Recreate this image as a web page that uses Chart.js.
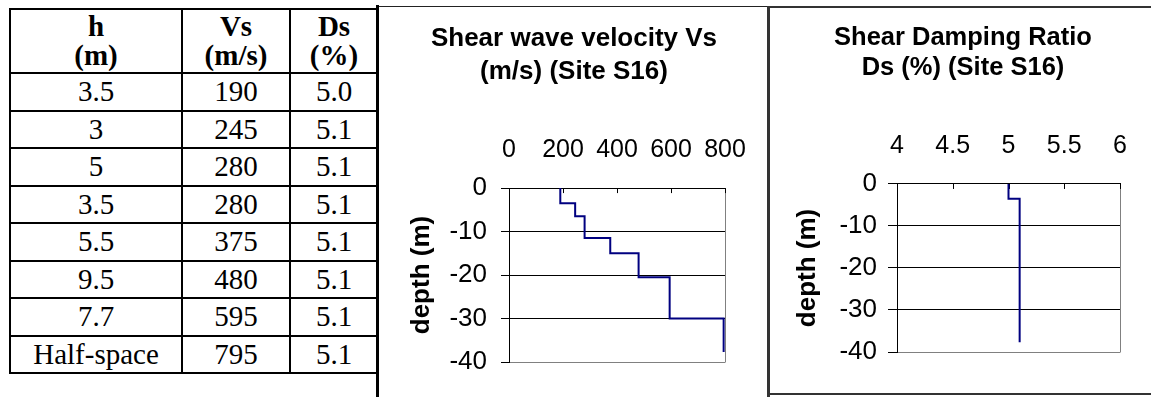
<!DOCTYPE html>
<html>
<head>
<meta charset="utf-8">
<script src="https://cdn.jsdelivr.net/npm/chart.js@4.4.1/dist/chart.umd.min.js"></script>
<style>
  html, body { margin: 0; padding: 0; background: #fff; }
  body { width: 1151px; height: 397px; position: relative; overflow: hidden; }
  #tbl { position: absolute; left: 9px; top: 8px; width: 368px; border-collapse: collapse; table-layout: fixed;
         font-family: 'Liberation Serif', 'Times New Roman', serif; font-size: 29px; color: #000; }
  #tbl th, #tbl td { border: 2px solid #000; text-align: center; padding: 0; line-height: 29px; }
  #tbl th { height: 62px; font-weight: bold; }
  #tbl td { height: 35.5px; }
  canvas { position: absolute; top: 0; }
  .rule { position: absolute; background: #000; }
</style>
</head>
<body>

<table id="tbl">
  <colgroup><col style="width:172px"><col style="width:108px"><col style="width:88px"></colgroup>
  <thead><tr><th>h<br>(m)</th><th>Vs<br>(m/s)</th><th>Ds<br>(%)</th></tr></thead>
  <tbody id="tblBody"></tbody>
</table>

<canvas id="chartVs" width="392" height="397" style="left:378px"></canvas>
<canvas id="chartDs" width="386" height="393" style="left:770px"></canvas>

<!-- cadres des panneaux -->
<div class="rule" style="left:376px; top:5px; width:3px; height:392px"></div>
<div class="rule" style="left:379px; top:6px; width:388px; height:1px; background:#222"></div>
<div class="rule" style="left:767px; top:6px; width:3px; height:391px; background:#333"></div>
<div class="rule" style="left:770px; top:6px; width:381px; height:2px; background:#333"></div>
<div class="rule" style="left:768px; top:393px; width:383px; height:2px; background:#333"></div>

<script>
// tableau des couches
const couchesH = ['3.5', '3', '5', '3.5', '5.5', '9.5', '7.7', 'Half-space'];
const couchesVs = [190, 245, 280, 280, 375, 480, 595, 795];
const couchesDs = ['5.0', '5.1', '5.1', '5.1', '5.1', '5.1', '5.1', '5.1'];

// profil Vs tel que tracé
const vsHaut = [0, -3.5, -6.5, -11.5, -15, -20.5, -30];
const vsBas = [-3.5, -6.5, -11.5, -15, -20.5, -30, -37.7];
const vsValeurs = [190, 245, 280, 375, 480, 595, 795];

// profil Ds tel que tracé
const dsHaut = [0, -3.5];
const dsBas = [-3.5, -37.7];
const dsValeurs = [5.0, 5.1];

const vsTicks = [0, 200, 400, 600, 800];
const dsTicks = [4, 4.5, 5, 5.5, 6];
const profTicks = [0, -10, -20, -30, -40];

Chart.defaults.font.family = "'Liberation Sans', Arial, sans-serif";
Chart.defaults.color = '#000';

document.getElementById('tblBody').innerHTML = couchesH.map((h, i) =>
  `<tr><td>${h}</td><td>${couchesVs[i]}</td><td>${couchesDs[i]}</td></tr>`).join('');

function escalier(valeurs, haut, bas) {
  const pts = [];
  valeurs.forEach((v, i) => {
    pts.push({ x: v, y: haut[i] });
    pts.push({ x: v, y: bas[i] });
  });
  return pts;
}

// graduations intérieures + bord droit gris (style Excel)
const cadreExcel = {
  id: 'cadreExcel',
  beforeDatasetsDraw(chart) {
    const { ctx, chartArea, scales: { x } } = chart;
    ctx.save();
    ctx.lineWidth = 1;
    ctx.strokeStyle = '#808080';
    const xr = Math.round(chartArea.right) + 0.5;
    ctx.beginPath();
    ctx.moveTo(xr, chartArea.top);
    ctx.lineTo(xr, chartArea.bottom + 0.5);
    ctx.stroke();
    ctx.strokeStyle = '#000';
    x.ticks.forEach(t => {
      const px = Math.round(x.getPixelForValue(t.value)) + 0.5;
      ctx.beginPath();
      ctx.moveTo(px, chartArea.top);
      ctx.lineTo(px, chartArea.top + 5);
      ctx.stroke();
    });
    ctx.restore();
  }
};

function construireProfil(id, cfg) {
  const ctx = document.getElementById(id).getContext('2d');
  return new Chart(ctx, {
    type: 'scatter',
    data: {
      datasets: [{
        data: escalier(cfg.valeurs, cfg.haut, cfg.bas),
        showLine: true,
        borderColor: '#000080',
        borderWidth: 2,
        pointRadius: 0,
        fill: false
      }]
    },
    options: {
      responsive: false,
      animation: false,
      layout: { padding: cfg.padding },
      plugins: {
        legend: { display: false },
        tooltip: { enabled: false },
        title: {
          display: true,
          text: cfg.titre,
          color: '#000',
          font: { size: cfg.titreTaille, weight: 'bold', lineHeight: cfg.titreInterligne },
          padding: { top: cfg.titreHaut, bottom: 0 }
        }
      },
      scales: {
        x: {
          type: 'linear',
          position: 'top',
          min: cfg.xTicks[0],
          max: cfg.xTicks[cfg.xTicks.length - 1],
          afterBuildTicks: s => { s.ticks = cfg.xTicks.map(v => ({ value: v })); },
          afterFit: s => { s.height = cfg.hauteurX; },
          ticks: { font: { size: 25 }, padding: 23, maxRotation: 0, autoSkip: false, callback: v => String(v) },
          grid: { drawOnChartArea: false, drawTicks: false },
          border: { color: '#000', width: 1 }
        },
        y: {
          type: 'linear',
          min: -40,
          max: 0,
          afterBuildTicks: s => { s.ticks = profTicks.map(v => ({ value: v })); },
          afterFit: s => { s.width = cfg.largeurY; },
          ticks: { font: { size: 26 }, padding: cfg.yPad, callback: v => String(v) },
          grid: {
            tickLength: cfg.yTick,
            tickColor: '#000',
            color: c => (c.tick && c.tick.value === -40 ? '#808080' : '#000'),
            lineWidth: 1
          },
          border: { color: '#000', width: 1 },
          title: {
            display: true,
            text: 'depth (m)',
            color: '#000',
            font: { size: 26, weight: 'bold', lineHeight: 1.2 },
            padding: { top: cfg.titreYDecal, bottom: 0 }
          }
        }
      }
    },
    plugins: [cadreExcel]
  });
}

construireProfil('chartVs', {
  valeurs: vsValeurs, haut: vsHaut, bas: vsBas,
  xTicks: vsTicks,
  titre: ['Shear wave velocity Vs', '(m/s) (Site S16)'],
  titreTaille: 26, titreInterligne: 1.29, titreHaut: 22,
  hauteurX: 99, largeurY: 86, yPad: 14, yTick: 8, titreYDecal: -17,
  padding: { left: 45, right: 45, top: 0, bottom: 35 }
});

construireProfil('chartDs', {
  valeurs: dsValeurs, haut: dsHaut, bas: dsBas,
  xTicks: dsTicks,
  titre: ['Shear Damping Ratio', 'Ds (%) (Site S16)'],
  titreTaille: 25.5, titreInterligne: 1.176, titreHaut: 22.5,
  hauteurX: 101.5, largeurY: 91, yPad: 11, yTick: 9, titreYDecal: -14,
  padding: { left: 36, right: 36, top: 0, bottom: 41 }
});
</script>
</body>
</html>
